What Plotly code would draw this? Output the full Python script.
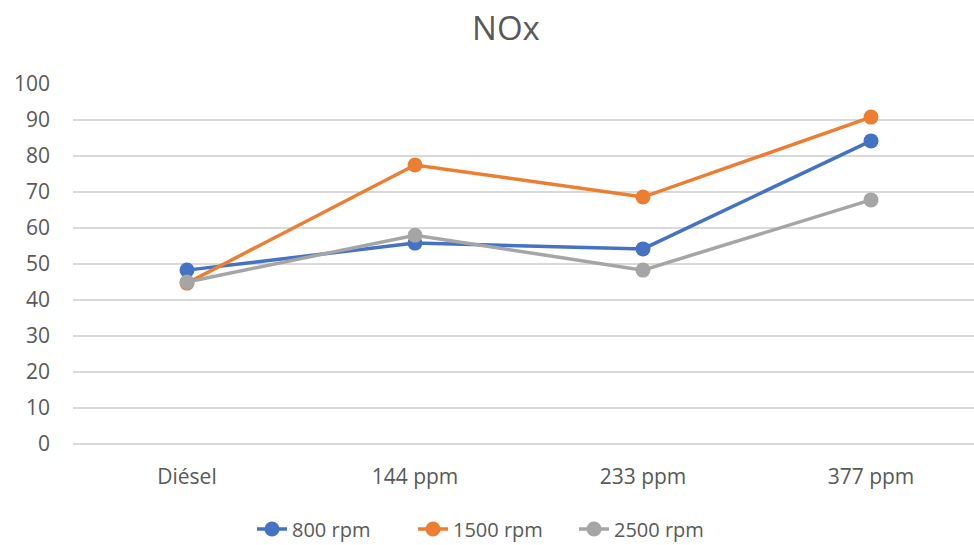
import plotly.graph_objects as go

categories = ["Diésel", "144 ppm", "233 ppm", "377 ppm"]
rpm_800 = [48.3, 55.8, 54.2, 84.2]
rpm_1500 = [44.7, 77.5, 68.6, 90.8]
rpm_2500 = [45.0, 58.0, 48.3, 67.8]
series_names = ["800 rpm", "1500 rpm", "2500 rpm"]
colors = ["#4472C4", "#ED7D31", "#A5A5A5"]
y_ticks = list(range(0, 101, 10))

fig = go.Figure()
for name, vals, col in zip(series_names, [rpm_800, rpm_1500, rpm_2500], colors):
    fig.add_trace(go.Scatter(
        x=categories, y=vals, name=name, mode="lines+markers",
        line=dict(color=col, width=3.5),
        marker=dict(color=col, size=15),
    ))

font_family = "Open Sans, Liberation Sans, sans-serif"
plot_w = 974 - 73
fig.update_layout(
    width=974, height=545,
    paper_bgcolor="white", plot_bgcolor="white",
    margin=dict(l=73, r=0, t=84, b=101, autoexpand=False),
    title=dict(text="NOx", x=506/974, xref="container", xanchor="center",
               y=1 - 28/545, yref="container", yanchor="middle",
               font=dict(family=font_family, size=33, color="#595959")),
    font=dict(family=font_family, color="#595959", size=20),
    showlegend=True,
    legend=dict(orientation="h", x=(252 - 73) / plot_w, xanchor="left",
                y=-(529 - 444) / 360, yanchor="middle",
                font=dict(size=20, color="#595959"),
                entrywidth=116, entrywidthmode="pixels",
                traceorder="normal"),
    xaxis=dict(type="category", range=[-0.5, -0.5 + plot_w/228], showgrid=False,
               showline=False, zeroline=False, ticks="", ticklabelstandoff=18,
               tickfont=dict(size=21, color="#595959")),
    yaxis=dict(range=[0, 100], tickvals=y_ticks, showgrid=True, gridcolor="#D9D9D9",
               gridwidth=1.5, zeroline=True, zerolinecolor="#D9D9D9", zerolinewidth=1.5,
               showline=False, ticks="", ticklabelstandoff=22,
               tickfont=dict(size=21, color="#595959")),
)
fig.write_html("out.html")
